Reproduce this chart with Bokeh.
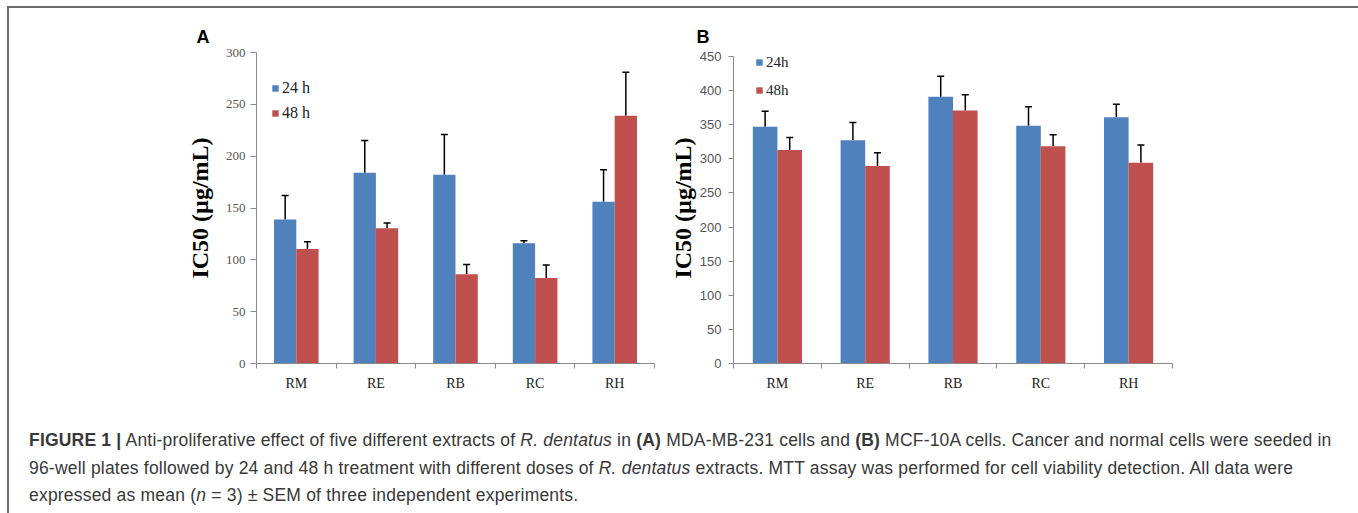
import numpy as np
from bokeh.plotting import figure
from bokeh.models import (ColumnDataSource, Whisker, TeeHead, FixedTicker, Legend,
                          LegendItem, Range1d, Div)
from bokeh.layouts import column, row
from bokeh.embed import file_html
from bokeh.resources import INLINE

# ---------------- data ----------------
categories = ["RM", "RE", "RB", "RC", "RH"]
series = ["24 h", "48 h"]

# Panel A: MDA-MB-231
a_24 = [139, 184, 182, 116, 156]
a_24_err = [23, 31, 39, 2.5, 31]
a_48 = [110.5, 130.5, 86, 82.5, 239]
a_48_err = [7, 5, 9.5, 12.5, 42]
a_yticks = [0, 50, 100, 150, 200, 250, 300]

# Panel B: MCF-10A
b_24 = [347, 327.5, 391, 348.5, 361]
b_24_err = [23, 26, 30, 28, 19]
b_48 = [313, 289.5, 371, 318.5, 294.5]
b_48_err = [18.5, 19.5, 23, 17, 26]
b_yticks = [0, 50, 100, 150, 200, 250, 300, 350, 400, 450]

BLUE = "#4F81BD"
RED = "#C0504D"
AXIS_GRAY = "#8a8a8a"
TICK_GRAY = "#555555"
SERIF = "Liberation Serif"
SANS = "Liberation Sans"

BAR_W = 0.28


def make_panel(v24, e24, v48, e48, yticks, y_top, width, height, mb_left, mb_right,
               mb_top, mb_bottom, tick_font, tick_out, tick_standoff,
               title_size, title_standoff, legend_labels, legend_font_size,
               legend_loc, legend_spacing, letter, letter_offset, letter_standoff):
    n = len(categories)
    centers = np.arange(n) + 0.5
    p = figure(width=width, height=height, output_backend="svg", toolbar_location=None,
               x_range=Range1d(0, n), y_range=Range1d(yticks[0], y_top),
               min_border_left=mb_left, min_border_right=mb_right,
               min_border_top=mb_top, min_border_bottom=mb_bottom,
               background_fill_color="white", border_fill_color="white")
    p.outline_line_color = None
    p.grid.visible = False

    # panel letter as the figure title
    p.title.text = letter
    p.title.align = "left"
    p.title.offset = letter_offset
    p.title.standoff = letter_standoff
    p.title.text_font = SANS
    p.title.text_font_style = "bold"
    p.title.text_font_size = "18px"
    p.title.text_color = "black"

    src24 = ColumnDataSource(dict(x=centers - BAR_W / 2, top=v24,
                                  upper=np.array(v24) + np.array(e24)))
    src48 = ColumnDataSource(dict(x=centers + BAR_W / 2, top=v48,
                                  upper=np.array(v48) + np.array(e48)))
    r24 = p.vbar(x="x", top="top", width=BAR_W, source=src24, fill_color=BLUE, line_color=None)
    r48 = p.vbar(x="x", top="top", width=BAR_W, source=src48, fill_color=RED, line_color=None)

    for src in (src24, src48):
        w = Whisker(base="x", lower="top", upper="upper", source=src, dimension="height",
                    line_color="black", line_width=1.5, lower_head=None,
                    upper_head=TeeHead(size=7, line_color="black", line_width=1.5))
        p.add_layout(w)

    # x axis: boundary ticks (minor), category labels at centers
    xa = p.xaxis[0]
    xa.ticker = FixedTicker(ticks=list(centers), minor_ticks=list(range(n + 1)))
    xa.major_label_overrides = {float(c): lab for c, lab in zip(centers, categories)}
    xa.major_tick_line_color = None
    xa.major_tick_out = 0
    xa.major_tick_in = 0
    xa.minor_tick_line_color = AXIS_GRAY
    xa.minor_tick_out = 5
    xa.minor_tick_in = 0
    xa.axis_line_color = AXIS_GRAY
    xa.major_label_text_font = SERIF
    xa.major_label_text_font_size = "14px"
    xa.major_label_text_color = "#222222"
    xa.major_label_standoff = 7

    ya = p.yaxis[0]
    ya.ticker = FixedTicker(ticks=yticks)
    ya.bounds = (yticks[0], yticks[-1])
    ya.minor_tick_line_color = None
    ya.major_tick_line_color = AXIS_GRAY
    ya.major_tick_out = tick_out
    ya.major_tick_in = 0
    ya.axis_line_color = AXIS_GRAY
    ya.major_label_text_font = tick_font
    ya.major_label_text_font_size = "13px"
    ya.major_label_text_color = TICK_GRAY
    ya.major_label_standoff = tick_standoff
    ya.axis_label = "IC50 (µg/mL)"
    ya.axis_label_text_font = SERIF
    ya.axis_label_text_font_style = "bold"
    ya.axis_label_text_font_size = title_size
    ya.axis_label_text_color = "black"
    ya.axis_label_standoff = title_standoff

    legend = Legend(items=[LegendItem(label=legend_labels[0], renderers=[r24]),
                           LegendItem(label=legend_labels[1], renderers=[r48])],
                    location=legend_loc, padding=0, margin=0, spacing=legend_spacing,
                    glyph_width=8, glyph_height=8, label_standoff=3, label_height=20,
                    label_text_font=SERIF, label_text_font_size=legend_font_size,
                    label_text_color="#222222", border_line_color=None,
                    background_fill_alpha=0)
    p.add_layout(legend)
    return p


pA = make_panel(a_24, a_24_err, a_48, a_48_err, a_yticks, y_top=300,
                width=651, height=392, mb_left=247, mb_right=6, mb_top=44, mb_bottom=36,
                tick_font=SERIF, tick_out=6, tick_standoff=5,
                title_size="24px", title_standoff=10,
                legend_labels=["24 h", "48 h"], legend_font_size="16px",
                legend_loc=(15, 240), legend_spacing=5,
                letter="A", letter_offset=-60, letter_standoff=12)

pB = make_panel(b_24, b_24_err, b_48, b_48_err, b_yticks, y_top=456,
                width=695, height=392, mb_left=73, mb_right=183, mb_top=41, mb_bottom=37,
                tick_font=SANS, tick_out=5, tick_standoff=7,
                title_size="24px", title_standoff=1,
                legend_labels=["24h", "48h"], legend_font_size="15px",
                legend_loc=(22, 263), legend_spacing=8,
                letter="B", letter_offset=-37, letter_standoff=11)

caption_html = (
    '<div style="font-family:\'Liberation Sans\',Arial,sans-serif;font-size:17.5px;'
    'letter-spacing:0.2px;line-height:27.5px;color:#383838;padding:22px 0 0 15px;'
    'white-space:nowrap;">'
    '<b>FIGURE 1 |</b> Anti-proliferative effect of five different extracts of '
    '<i>R. dentatus</i> in <b>(A)</b> MDA-MB-231 cells and <b>(B)</b> MCF-10A cells. '
    'Cancer and normal cells were seeded in<br>'
    '96-well plates followed by 24 and 48 h treatment with different doses of '
    '<i>R. dentatus</i> extracts. MTT assay was performed for cell viability detection. '
    'All data were<br>'
    'expressed as mean (<i>n</i> = 3) ± SEM of three independent experiments.'
    '</div>'
)
caption = Div(text=caption_html, width=1346, height=110)

layout = column(row(pA, pB), caption,
                styles={"border": "2px solid #6b6b6b", "margin-left": "7px",
                        "margin-top": "6px", "background": "white"})

open("out.html", "w").write(file_html(layout, INLINE))
